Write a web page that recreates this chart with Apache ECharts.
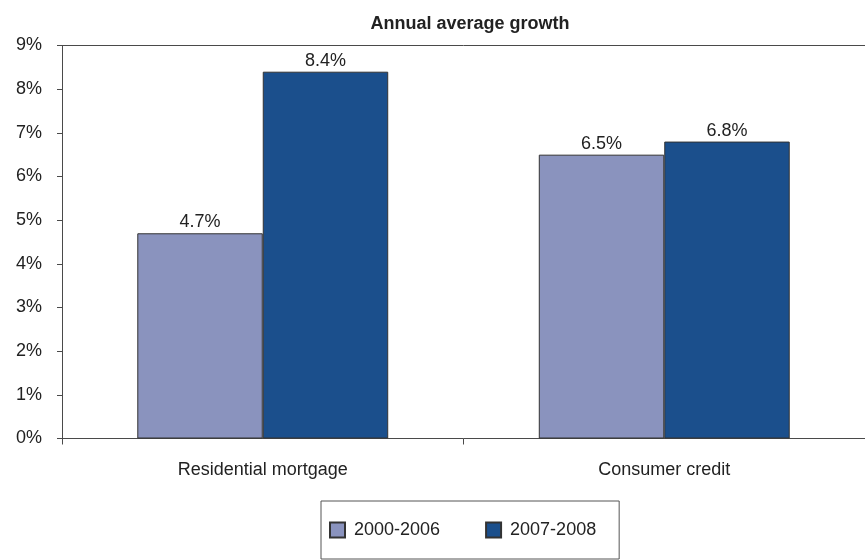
<!DOCTYPE html>
<html>
<head>
<meta charset="utf-8">
<script src="https://cdn.jsdelivr.net/npm/echarts@6/dist/echarts.min.js"></script>
<style>
  html, body { margin: 0; padding: 0; background: #fff; }
  #chart { width: 865px; height: 560px; }
</style>
</head>
<body>
<div id="chart"></div>
<script>
// Annual average growth by lending type, in percent
const categories = ['Residential mortgage', 'Consumer credit'];
const period1Name = '2000-2006';
const period2Name = '2007-2008';
const period1Values = [4.7, 6.5];
const period2Values = [8.4, 6.8];
const yTicks = [0, 1, 2, 3, 4, 5, 6, 7, 8, 9];

const font = 'Liberation Sans, Arial, sans-serif';
const axisColor = '#4a4a4a';
const textColor = '#222';

const chart = echarts.init(document.getElementById('chart'), null, { renderer: 'canvas' });

const barLabel = {
  show: true,
  position: 'top',
  distance: 2,
  color: textColor,
  fontFamily: font,
  fontSize: 18,
  formatter: p => p.value.toFixed(1) + '%'
};

chart.setOption({
  animation: false,
  backgroundColor: '#fff',
  title: {
    text: 'Annual average growth',
    left: 465,
    textAlign: 'center',
    top: 10,
    textStyle: { fontFamily: font, fontSize: 18, fontWeight: 'bold', color: textColor }
  },
  legend: {
    data: [period1Name, period2Name],
    left: 321,
    top: 501,
    orient: 'horizontal',
    icon: 'rect',
    itemWidth: 15,
    itemHeight: 15,
    itemGap: 45,
    padding: [20, 23, 20, 8],
    borderColor: '#555',
    borderWidth: 1,
    textStyle: { fontFamily: font, fontSize: 18, color: textColor, padding: [0, 0, 0, 4] }
  },
  grid: { left: 62, right: 0, top: 45.5, bottom: 121.5, containLabel: false },
  xAxis: [
    {
      type: 'category',
      data: categories,
      position: 'bottom',
      boundaryGap: true,
      axisLine: { show: true, lineStyle: { color: axisColor, width: 1 } },
      axisTick: { show: true, length: 6, lineStyle: { color: axisColor } },
      axisLabel: { color: textColor, fontFamily: font, fontSize: 18, margin: 23 }
    },
    {
      type: 'category',
      data: categories,
      position: 'top',
      axisLine: { show: true, lineStyle: { color: axisColor, width: 1 } },
      axisTick: { show: false },
      axisLabel: { show: false }
    }
  ],
  yAxis: {
    type: 'value',
    min: yTicks[0],
    max: yTicks[yTicks.length - 1],
    interval: 1,
    axisLine: { show: true, lineStyle: { color: axisColor, width: 1 } },
    axisTick: { show: true, length: 5, lineStyle: { color: axisColor } },
    splitLine: { show: false },
    axisLabel: { color: textColor, fontFamily: font, fontSize: 18, margin: 20, formatter: '{value}%' }
  },
  series: [
    {
      name: period1Name,
      type: 'bar',
      data: period1Values,
      barGap: '0%',
      barCategoryGap: '37.5%',
      itemStyle: { color: '#8a93be', borderColor: '#333', borderWidth: 1 },
      label: barLabel
    },
    {
      name: period2Name,
      type: 'bar',
      data: period2Values,
      barGap: '0%',
      barCategoryGap: '37.5%',
      itemStyle: { color: '#1b4f8c', borderColor: '#333', borderWidth: 1 },
      label: barLabel
    }
  ]
});
</script>
</body>
</html>
